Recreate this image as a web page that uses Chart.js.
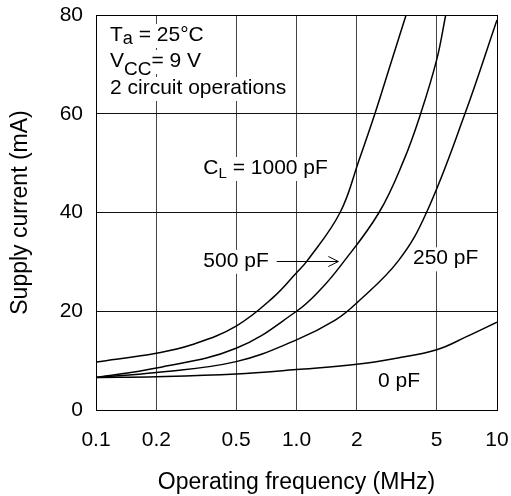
<!DOCTYPE html>
<html lang="en">
<head>
  <meta charset="UTF-8">
  <title>Supply current vs operating frequency</title>
  <script src="https://cdn.jsdelivr.net/npm/chart.js@4"></script>
  <style>
    * { margin: 0; padding: 0; box-sizing: border-box; }
    body { background: #fff; width: 511px; height: 496px; overflow: hidden; }
    canvas { display: block; }
  </style>
</head>
<body>
  <canvas id="chart" width="511" height="496"></canvas>
  <script>
    // values (frequency in MHz, current in mA)
    const freq1000 = [0.1, 0.2, 0.3, 0.5, 0.77, 1.0, 1.13, 1.65, 2.05, 2.46, 2.99, 3.52]
    const curr1000 = [9.7, 11.5, 13.2, 17.0, 22.9, 27.8, 30.2, 40, 50.6, 60, 70.9, 80]
    const freq500 = [0.1, 0.2, 0.5, 1.0, 1.31, 1.68, 2.58, 3.43, 4.16, 5.0, 5.55]
    const curr500 = [6.6, 8.5, 12.5, 20.0, 24.3, 29.5, 40, 50.6, 60, 70.9, 80]
    const freq250 = [0.1, 0.2, 0.5, 1.0, 1.56, 2.0, 3.22, 4.45, 6.92, 10]
    const curr250 = [6.6, 7.6, 9.8, 14.2, 18.2, 21.7, 30.2, 40, 60, 79]
    const freq0 = [0.1, 0.2, 0.5, 1.0, 2.0, 3.16, 5.0, 7.0, 10]
    const curr0 = [6.6, 6.75, 7.3, 8.2, 9.25, 10.5, 12.2, 14.8, 17.8]

    const xTicks = [0.1, 0.2, 0.5, 1, 2, 5, 10]
    const xTickLabels = ['0.1', '0.2', '0.5', '1.0', '2', '5', '10']
    const yTicks = [0, 20, 40, 60, 80]

    const FONT = "'Liberation Sans', Arial, sans-serif"
    Chart.defaults.font.family = FONT
    Chart.defaults.color = '#000'

    const toPoints = (xs, ys) => xs.map((x, i) => ({ x, y: ys[i] }))
    const curve = (xs, ys) => ({
      data: toPoints(xs, ys),
      borderColor: '#000',
      borderWidth: 1.5,
      pointRadius: 0,
      tension: 0.4,
      fill: false
    })

    // text line made of segments, drawn on a white patch
    const drawRich = (ctx, x, y, parts) => {
      let w = 0
      for (const p of parts) {
        ctx.font = p.size + 'px ' + FONT
        p.w = ctx.measureText(p.t).width
        w += p.w
      }
      ctx.fillStyle = '#fff'
      ctx.fillRect(x - 2, y - 17, w + 4, 24)
      ctx.fillStyle = '#000'
      ctx.textBaseline = 'alphabetic'
      ctx.textAlign = 'left'
      let cx = x
      for (const p of parts) {
        ctx.font = p.size + 'px ' + FONT
        ctx.fillText(p.t, cx, y + (p.dy || 0))
        cx += p.w
      }
    }

    const notes = {
      id: 'notes',
      afterDatasetsDraw(chart) {
        const { ctx, chartArea: a, scales: { x, y } } = chart
        ctx.save()
        // condition block
        drawRich(ctx, a.left + 14, a.top + 26, [{ t: 'T', size: 21 }, { t: 'a', size: 18, dy: 3 }, { t: ' = 25°C', size: 21 }])
        drawRich(ctx, a.left + 14, a.top + 52, [{ t: 'V', size: 21 }, { t: 'CC', size: 19, dy: 8 }, { t: '= 9 V', size: 21 }])
        drawRich(ctx, a.left + 14, a.top + 79, [{ t: '2 circuit operations', size: 21 }])
        // curve labels
        drawRich(ctx, x.getPixelForValue(0.343), y.getPixelForValue(47.8), [{ t: 'C', size: 21 }, { t: 'L', size: 15, dy: 4 }, { t: ' = 1000 pF', size: 21 }])
        drawRich(ctx, x.getPixelForValue(0.343), y.getPixelForValue(29.0), [{ t: '500 pF', size: 21 }])
        drawRich(ctx, x.getPixelForValue(3.81), y.getPixelForValue(29.5), [{ t: '250 pF', size: 21 }])
        drawRich(ctx, x.getPixelForValue(2.55), y.getPixelForValue(4.6), [{ t: '0 pF', size: 21 }])
        // arrow from 500 pF label to its curve
        const ay = Math.round(y.getPixelForValue(30.2)) + 0.5
        const ax0 = x.getPixelForValue(0.797)
        const ax1 = x.getPixelForValue(1.617)
        ctx.strokeStyle = '#000'
        ctx.lineWidth = 1
        ctx.beginPath()
        ctx.moveTo(ax0, ay)
        ctx.lineTo(ax1, ay)
        ctx.moveTo(ax1 - 10, ay - 5)
        ctx.lineTo(ax1, ay)
        ctx.lineTo(ax1 - 10, ay + 5)
        ctx.stroke()
        // frame
        ctx.strokeStyle = '#000'
        ctx.strokeRect(Math.round(a.left) + 0.5, Math.round(a.top) + 0.5, Math.round(a.right - a.left), Math.round(a.bottom - a.top))
        ctx.restore()
      }
    }

    new Chart(document.getElementById('chart'), {
      type: 'line',
      data: {
        datasets: [
          curve(freq1000, curr1000),
          curve(freq500, curr500),
          curve(freq250, curr250),
          curve(freq0, curr0)
        ]
      },
      options: {
        responsive: false,
        animation: false,
        events: [],
        layout: { padding: { top: 15, right: 14, left: 0, bottom: 0 } },
        plugins: { legend: { display: false }, tooltip: { enabled: false } },
        scales: {
          x: {
            type: 'logarithmic',
            min: 0.1,
            max: 10,
            afterBuildTicks: s => { s.ticks = xTicks.map(v => ({ value: v })) },
            afterFit: s => { s.height = 86; s.paddingLeft = 0; s.paddingRight = 0 },
            grid: { color: '#444', lineWidth: 1, drawTicks: false },
            border: { display: false },
            ticks: {
              font: { size: 21 },
              padding: 18,
              maxRotation: 0,
              autoSkip: false,
              callback: (v, i) => xTickLabels[i]
            },
            title: { display: true, text: 'Operating frequency (MHz)', font: { size: 23 }, padding: { bottom: 0, top: 0 } }
          },
          y: {
            min: 0,
            max: 80,
            afterBuildTicks: s => { s.ticks = yTicks.map(v => ({ value: v })) },
            afterFit: s => { s.width = 96; s.paddingTop = 0; s.paddingBottom = 0 },
            grid: { color: '#111', lineWidth: 1, drawTicks: false },
            border: { display: false },
            ticks: { font: { size: 21 }, padding: 13 },
            title: { display: true, text: 'Supply current (mA)', font: { size: 23 }, padding: { top: 7, bottom: 0 } }
          }
        }
      },
      plugins: [notes]
    })
  </script>
</body>
</html>
